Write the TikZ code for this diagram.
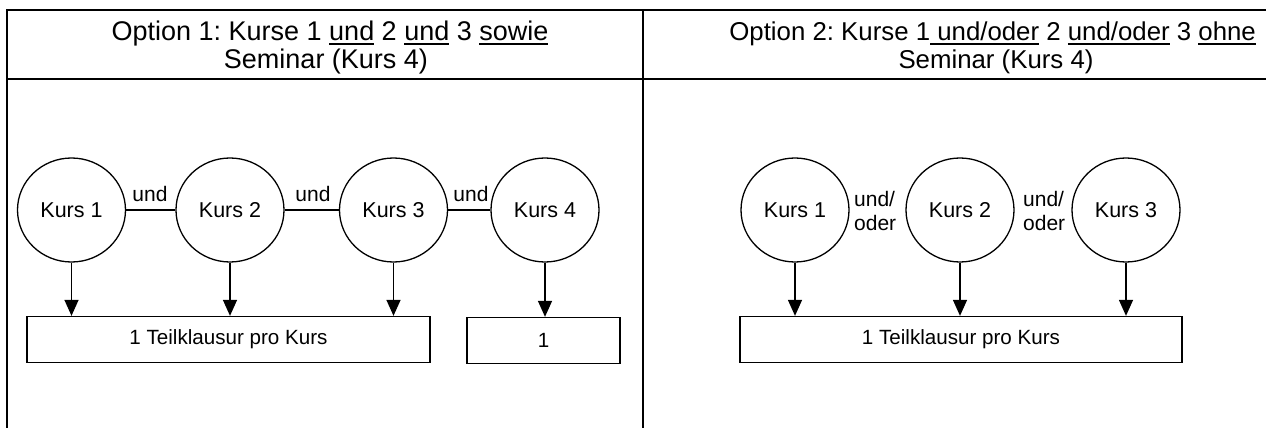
\documentclass[tikz,border=0pt]{standalone}
\usepackage{fontspec}
\setmainfont{Liberation Sans}
\usetikzlibrary{shapes.geometric,arrows.meta}
\frenchspacing
\newcommand\myul[1]{\setbox0\hbox{#1}\rlap{\rule[-3.8pt]{\wd0}{1.8pt}}\box0\relax}
\tikzset{
  tbl/.style={line width=2pt, line cap=rect},
  kurs/.style={ellipse, draw, line width=1.3pt, minimum width=108pt, minimum height=104pt, inner sep=0pt, font=\fontsize{21.5}{24}\selectfont},
  exam/.style={draw, line width=1.3pt, inner sep=0pt, font=\fontsize{20.6}{22}\selectfont},
  head/.style={anchor=base, inner sep=0pt, font=\fontsize{27}{28}\selectfont},
  headr/.style={anchor=base, inner sep=0pt, font=\fontsize{25.8}{28}\selectfont},
  lbl/.style={inner sep=0pt, font=\fontsize{21}{24}\selectfont},
  conn/.style={line width=1.3pt},
  arr/.style={line width=1.4pt, -{Triangle[length=16pt,width=14pt]}}
}
\begin{document}
\begin{tikzpicture}[x=1pt,y=-1pt]
\useasboundingbox (0,0) rectangle (1266,428);
% table
\coordinate (tl) at (7,10);
\coordinate (tr) at (1266,10);
\coordinate (hl) at (7,79);
\coordinate (hr) at (1266,79);
\coordinate (bl) at (7,428);
\coordinate (mt) at (643,10);
\coordinate (mb) at (643,428);
\draw[tbl] (bl) -- (tl) -- (tr);
\draw[tbl] (hl) -- (hr);
\draw[tbl] (mt) -- (mb);
% headers
\node[head] (h1a) at (330,41) {Option 1: Kurse 1 \myul{und} 2 \myul{und} 3 \myul{sowie}};
\node[head] (h1b) at (326,68) {Seminar (Kurs 4)};
\node[headr, anchor=base east] (h2a) at (1256,41) {Option 2: Kurse 1\myul{ und/oder} 2 \myul{und/oder} 3 \myul{ohne}};
\node[headr] (h2b) at (996,68) {Seminar (Kurs 4)};
% left panel
\node[kurs] (a1) at (71.5,210) {Kurs 1};
\node[kurs] (a2) at (230,210) {Kurs 2};
\node[kurs] (a3) at (393.5,210) {Kurs 3};
\node[kurs] (a4) at (545,210) {Kurs 4};
\draw[conn] (a1) -- (a2);
\draw[conn] (a2) -- (a3);
\draw[conn] (a3) -- (a4);
\node[lbl,anchor=base] (u1) at (150,201) {und};
\node[lbl,anchor=base] (u2) at (313,201) {und};
\node[lbl,anchor=base] (u3) at (471,201) {und};
\node[exam, minimum width=403pt, minimum height=46pt] (e1) at (228.5,339.5) {1 Teilklausur pro Kurs};
\node[exam, minimum width=153pt, minimum height=46pt] (e2) at (543.5,340.5) {1};
\draw[arr] (a1.south) -- (a1.south |- e1.north);
\draw[arr] (a2.south) -- (a2.south |- e1.north);
\draw[arr] (a3.south) -- (a3.south |- e1.north);
\draw[arr] (a4.south) -- (a4.south |- e2.north);
% right panel
\node[kurs] (b1) at (795,210) {Kurs 1};
\node[kurs] (b2) at (960,210) {Kurs 2};
\node[kurs] (b3) at (1126,210) {Kurs 3};
\node[lbl, align=left, anchor=west] (o1) at (854,211) {und/\\oder};
\node[lbl, align=left, anchor=west] (o2) at (1023,211) {und/\\oder};
\node[exam, minimum width=442pt, minimum height=46pt] (e3) at (961,339.5) {1 Teilklausur pro Kurs};
\draw[arr] (b1.south) -- (b1.south |- e3.north);
\draw[arr] (b2.south) -- (b2.south |- e3.north);
\draw[arr] (b3.south) -- (b3.south |- e3.north);
\end{tikzpicture}
\end{document}
